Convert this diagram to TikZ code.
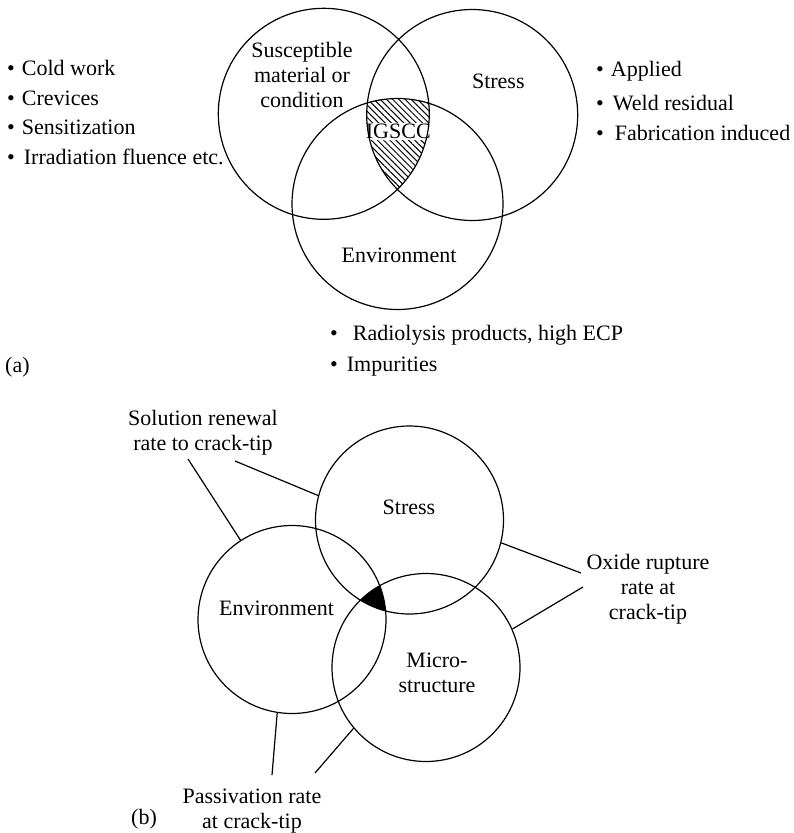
\documentclass[tikz,border=0pt]{standalone}
\usepackage{fontspec}
\setmainfont{Liberation Serif}
\usetikzlibrary{patterns.meta}
% bullet followed by a gap of the given width (in pt)
\newcommand\bulletgap[1]{\textbullet\hspace{#1pt}}
\begin{document}
\begin{tikzpicture}[x=1pt,y=-1pt,
  font=\fontsize{22}{25}\selectfont,
  ring/.style={circle,draw,line width=1.2pt,minimum size=#1,inner sep=0pt},
  lbl/.style={align=center,inner sep=0pt},
  item/.style={anchor=base west,inner sep=0pt},
  lead/.style={line width=1.2pt}]
\useasboundingbox (0,0) rectangle (793,833);

% ---------------- (a) three factors of IGSCC ----------------
\coordinate (cM) at (323.8,113.8);
\coordinate (cS) at (472.2,115);
\coordinate (cE) at (397.5,204);
\begin{scope}
  \clip (cM) circle (105.5pt);
  \clip (cS) circle (105.5pt);
  \fill[pattern={Lines[angle=-45,distance=4.4pt,line width=1pt]}] (cE) circle (105.5pt);
\end{scope}
\node[lbl,fill=white,inner sep=1pt] (igscc) at (398.3,131.7) {IGSCC};
\node[ring=211pt] (matA) at (cM) {};
\node[ring=211pt] (stressA) at (cS) {};
\node[ring=211pt] (envA) at (cE) {};

\node[lbl] (matTxt) at (302,75) {Susceptible\\material or\\condition};
\node[lbl] (stressTxt) at (498.3,81.7) {Stress};
\node[lbl] (envTxt) at (399,255) {Environment};

\node[item] (cw)  at (7,75)  {\bulletgap{7}Cold work};
\node[item] (crv) at (7,105) {\bulletgap{7}Crevices};
\node[item] (sen) at (7,134) {\bulletgap{7}Sensitization};
\node[item] (irr) at (7,164) {\bulletgap{9}Irradiation fluence etc.};

\node[item] (app) at (596,76)  {\bulletgap{7}Applied};
\node[item] (wld) at (596,110) {\bulletgap{9}Weld residual};
\node[item] (fab) at (596,140) {\bulletgap{11}Fabrication induced};

\node[item] (rad) at (330,340) {\bulletgap{15}Radiolysis products, high ECP};
\node[item] (imp) at (330,371) {\bulletgap{9}Impurities};

\node[item] (tagA) at (5,372) {(a)};

% ---------------- (b) crack-tip processes ----------------
\coordinate (bS) at (409.5,520);
\coordinate (bE) at (292,619.5);
\coordinate (bM) at (426,667.5);
\begin{scope}
  \clip (bE) circle (94pt);
  \clip (bS) circle (94pt);
  \fill[black] (bM) circle (94pt);
\end{scope}
\node[ring=188pt] (stressB) at (bS) {};
\node[ring=188pt] (envB) at (bE) {};
\node[ring=188pt] (microB) at (bM) {};

\node[lbl] (stressBTxt) at (409,507) {Stress};
\node[lbl] (envBTxt) at (276.5,608) {Environment};
\node[lbl] (microBTxt) at (437,673) {Micro-\\structure};

\node[lbl] (sol) at (203,432.5) {Solution renewal\\rate to crack-tip};
\node[lbl] (ox)  at (648,589) {Oxide rupture\\rate at\\crack-tip};
\node[lbl] (pas) at (252,811) {Passivation rate\\at crack-tip};

\coordinate (solA) at (188,459);
\coordinate (solB) at (235,461);
\coordinate (oxA)  at (581,573);
\coordinate (oxB)  at (583,587);
\coordinate (pasA) at (272,775);
\coordinate (pasB) at (315,773);

\draw[lead] (solA) -- (envB.123.7);
\draw[lead] (solB) -- (stressB.165.1);
\draw[lead] (oxA) -- (stressB.-14);
\draw[lead] (oxB) -- (microB.24.4);
\draw[lead] (pasA) -- (envB.261.5);
\draw[lead] (pasB) -- (microB.220.4);

\node[item] (tagB) at (131,824) {(b)};
\end{tikzpicture}
\end{document}
